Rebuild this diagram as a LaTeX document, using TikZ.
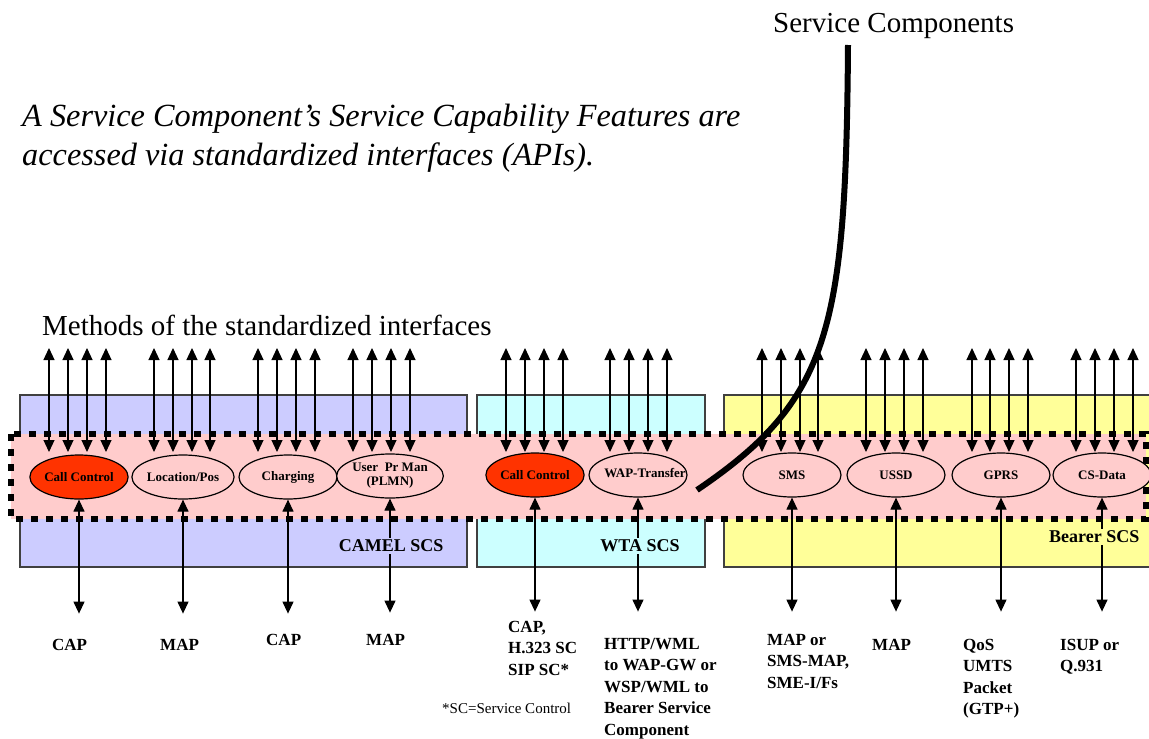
\documentclass[tikz,border=0pt]{standalone}
\usepackage{fontspec}
\setmainfont{Liberation Serif}
\usetikzlibrary{shapes.geometric,arrows.meta}
\definecolor{camelblue}{HTML}{CCCCFF}
\definecolor{wtacyan}{HTML}{CCFFFF}
\definecolor{beareryellow}{HTML}{FFFF99}
\definecolor{bandpink}{HTML}{FFCCCC}
\definecolor{callred}{HTML}{FF3300}
\begin{document}
\begin{tikzpicture}[x=1pt,y=-1pt,
  scsbox/.style={draw=black!75, line width=1.3pt},
  svc/.style={ellipse, draw=black, line width=1.2pt, fill=bandpink,
    minimum width=98pt, minimum height=44pt, inner sep=0pt,
    font=\fontsize{13}{14}\selectfont\bfseries, align=center},
  hot/.style={svc, fill=callred},
  tip/.tip={Triangle[width=11pt,length=12pt]},
  dbl/.style={line width=1.2pt, tip-tip},
  proto/.style={anchor=north west, inner sep=0pt,
    font=\fontsize{17}{21.5}\selectfont\bfseries, align=left},
  scs/.style={font=\fontsize{18}{18}\selectfont\bfseries, inner sep=1.5pt},
  heading/.style={anchor=base west, inner sep=0pt, font=\fontsize{29}{34}\selectfont}
]
\useasboundingbox (0,0) rectangle (1149,739);
\clip (0,0) rectangle (1149,739);

% headings
\node[heading] (sc) at (773,32) {Service Components};
\node[heading, font=\fontsize{32.3}{39}\selectfont\itshape, align=left, anchor=north west]
  (note) at (22,104) {A Service Component’s Service Capability Features are\\accessed via standardized interfaces (APIs).};
\node[heading] (meth) at (42,335) {Methods of the standardized interfaces};

% service capability servers
\draw[scsbox, fill=camelblue] (20,395) rectangle (467,567);
\draw[scsbox, fill=wtacyan] (477,395) rectangle (705,567);
\draw[scsbox, fill=beareryellow] (724,395) rectangle (1160,567);

% service component band
\draw[line width=6pt, dash pattern=on 7pt off 8pt, fill=bandpink] (11,434) rectangle (1146,519);

% service capability features
\node[hot] (cc1) at (79,477) {Call Control};
\node[svc] (loc) at (183,477) {Location/Pos};
\node[svc] (chg) at (288,477) {Charging};
\node[svc] (upm) at (390,476) {User\ \ Pr Man\\(PLMN)};
\node[hot] (cc2) at (535,475) {Call Control};
\node[svc] (wap) at (638,475) {};
\node[font=\fontsize{13}{14}\selectfont\bfseries, inner sep=0pt] (waptext) at (645,473) {WAP-Transfer};
\node[svc] (sms) at (792,475) {SMS};
\node[svc] (ussd) at (896,475) {USSD};
\node[svc] (gprs) at (1001,475) {GPRS};
\node[svc] (csd) at (1102,475) {CS-Data};

% API methods above each feature
\foreach \xs in {{49,68,87,106},{154,173,192,210},{258,277,296,315},{353,372,391,410},
                 {506,525,544,563},{610,629,648,667},{762,781,800,818},{866,885,904,923},
                 {972,990,1009,1028},{1076,1095,1114,1133}}
  \foreach \x in \xs {
    \coordinate (top) at (\x,348);
    \coordinate (bot) at (\x,452);
    \draw[dbl] (top) -- (bot);
  }

% protocols below each feature
\node[proto] (p1) at (52,639) {CAP};
\node[proto] (p2) at (160,639) {MAP};
\node[proto] (p3) at (266,634) {CAP};
\node[proto] (p4) at (366,634) {MAP};
\node[proto] (p5) at (508,621) {CAP,\\H.323 SC\\SIP SC*};
\node[proto] (p6) at (604,638) {HTTP/WML\\to WAP-GW or\\WSP/WML to\\Bearer Service\\Component};
\node[proto] (p7) at (767,634) {MAP or\\SMS-MAP,\\SME-I/Fs};
\node[proto] (p8) at (872,639) {MAP};
\node[proto] (p9) at (963,639) {QoS\\UMTS\\Packet\\(GTP+)};
\node[proto] (p10) at (1060,639) {ISUP or\\Q.931};

\foreach \e in {cc1,loc,chg,upm,cc2,wap,sms,ussd,gprs,csd}
  \draw[dbl] (\e.south) -- ++(0,114);

% server names
\node[scs, fill=camelblue, anchor=east] (camel) at (445,546) {CAMEL SCS};
\node[scs, fill=wtacyan] (wta) at (640,546) {WTA SCS};
\node[scs, fill=beareryellow, anchor=east] (bearer) at (1141,537) {Bearer SCS};

\node[anchor=base west, inner sep=0pt, font=\fontsize{15}{15}\selectfont] (fn) at (442,713) {*SC=Service Control};

% service component pointer
\draw[line width=6pt] (848,45) .. controls (846,330) and (830,400) .. (697,490);
\end{tikzpicture}
\end{document}
